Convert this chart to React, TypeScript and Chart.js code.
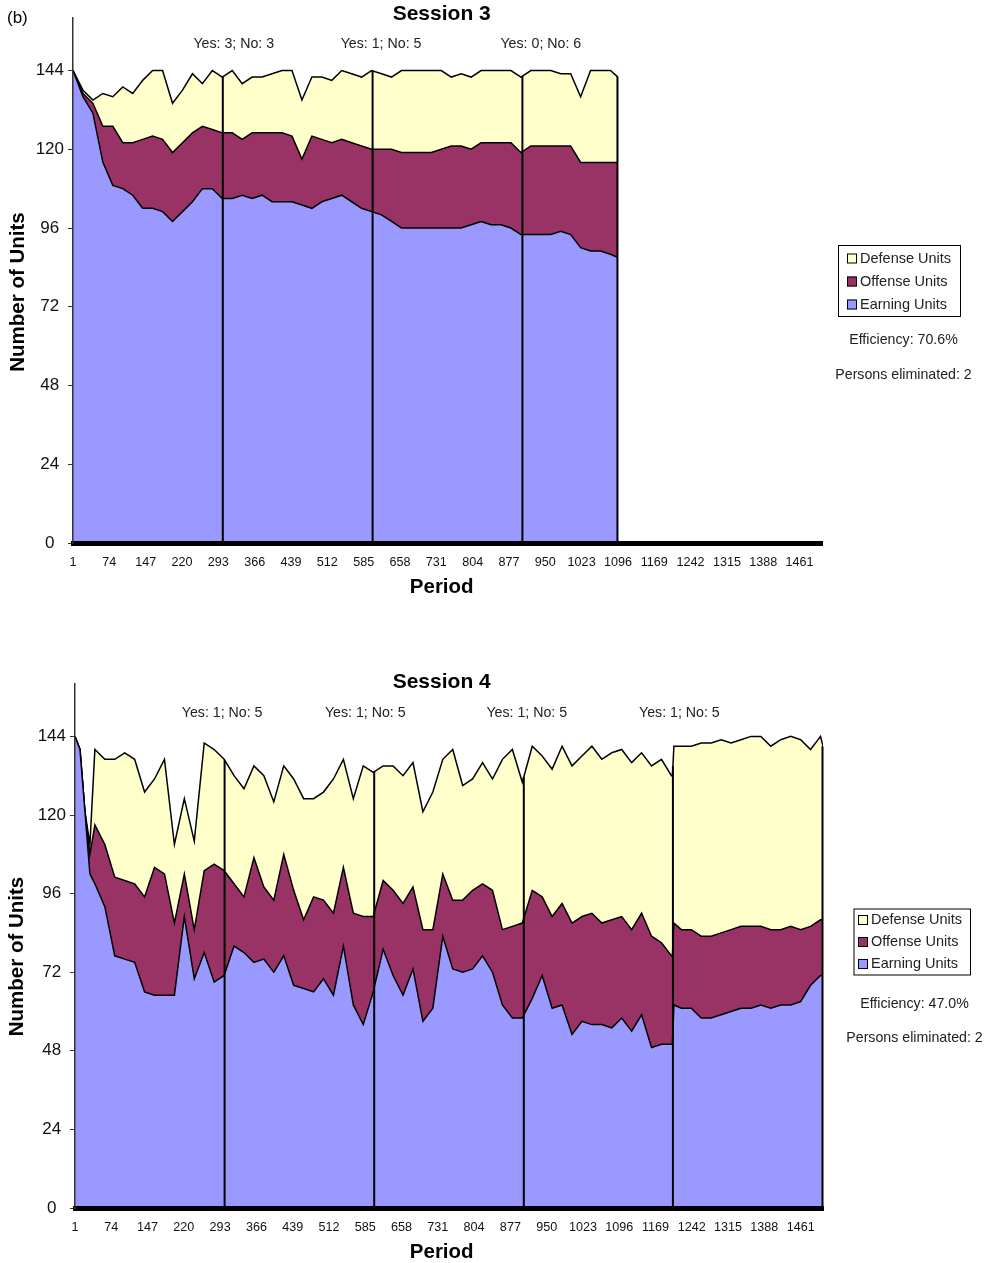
import React, { useEffect, useRef } from "react";
import { Chart, registerables } from "chart.js";

Chart.register(...registerables);

// ---------- Session 3 data ----------
const s3Periods = [1, 21, 41, 61, 81, 101, 121, 141, 161, 181, 201, 221, 241, 261, 281, 301, 321, 341, 361, 381, 401, 421, 441, 461, 481, 501, 521, 541, 561, 581, 601, 621, 641, 661, 681, 701, 721, 741, 761, 781, 801, 821, 841, 861, 881, 901, 921, 941, 961, 981, 1001, 1021, 1041, 1061, 1081, 1096];
const s3Earning = [144, 136, 131, 116, 109, 108, 106, 102, 102, 101, 98, 101, 104, 108, 108, 105, 105, 106, 105, 106, 104, 104, 104, 103, 102, 104, 105, 106, 104, 102, 101, 100, 98, 96, 96, 96, 96, 96, 96, 96, 97, 98, 97, 97, 96, 94, 94, 94, 94, 95, 94, 90, 89, 89, 88, 87];
const s3Offense = [0, 1, 3, 11, 18, 14, 16, 21, 22, 22, 21, 21, 21, 19, 18, 20, 20, 17, 20, 19, 21, 21, 20, 14, 22, 19, 17, 17, 18, 19, 19, 20, 22, 23, 23, 23, 23, 24, 25, 25, 23, 24, 25, 25, 26, 25, 27, 27, 27, 26, 27, 26, 27, 27, 28, 29];
const s3Defense = [0, 1, 1, 10, 9, 17, 15, 18, 20, 21, 15, 16, 18, 13, 18, 17, 19, 17, 17, 17, 18, 19, 20, 18, 18, 19, 19, 21, 21, 21, 24, 23, 22, 25, 25, 25, 25, 24, 21, 22, 22, 22, 22, 22, 22, 23, 23, 23, 23, 22, 22, 20, 28, 28, 28, 26];
const s3PhaseBreaks = [302, 603, 904];
const s3Votes = ["Yes: 3; No: 3", "Yes: 1; No: 5", "Yes: 0; No: 6"];
const s3VotePeriods = [324, 620, 941];

// ---------- Session 4 data ----------
const s4Periods = [1, 11, 21, 31, 41, 61, 81, 101, 121, 141, 161, 181, 201, 221, 241, 261, 281, 301, 321, 341, 361, 381, 401, 421, 441, 461, 481, 501, 521, 541, 561, 581, 601, 621, 641, 661, 681, 701, 721, 741, 761, 781, 801, 821, 841, 861, 881, 901, 921, 941, 961, 981, 1001, 1021, 1041, 1061, 1081, 1101, 1121, 1141, 1161, 1181, 1201, 1203, 1206, 1221, 1241, 1261, 1281, 1301, 1321, 1341, 1361, 1381, 1401, 1421, 1441, 1461, 1481, 1501, 1506];
const s4Earning = [144, 140, 121, 102, 99, 92, 77, 76, 75, 66, 65, 65, 65, 89, 70, 78, 69, 71, 80, 78, 75, 76, 72, 77, 68, 67, 66, 70, 65, 80, 62, 56, 66, 79, 71, 65, 73, 57, 61, 83, 73, 72, 73, 77, 72, 62, 58, 58, 64, 71, 61, 62, 53, 57, 56, 56, 55, 58, 54, 59, 49, 50, 50, 50, 62, 61, 61, 58, 58, 59, 60, 61, 61, 62, 61, 62, 62, 63, 68, 71, 71];
const s4Offense = [0, 0, 0, 6, 18, 19, 24, 24, 24, 29, 39, 37, 22, 13, 15, 25, 36, 32, 19, 17, 32, 22, 22, 31, 29, 21, 29, 24, 25, 24, 28, 33, 23, 21, 26, 28, 25, 28, 24, 19, 21, 22, 24, 22, 25, 23, 28, 29, 33, 24, 28, 31, 34, 32, 34, 31, 33, 31, 31, 31, 34, 31, 27, 27, 25, 24, 24, 25, 25, 25, 25, 25, 25, 24, 24, 23, 24, 22, 18, 17, 17];
const s4Defense = [0, 0, 0, 3, 23, 26, 36, 39, 38, 32, 27, 35, 24, 23, 27, 39, 35, 34, 33, 33, 28, 34, 30, 27, 34, 37, 30, 33, 41, 33, 35, 46, 44, 35, 38, 39, 38, 36, 42, 35, 46, 35, 34, 37, 34, 52, 54, 43, 44, 43, 45, 48, 48, 49, 51, 50, 51, 51, 51, 49, 52, 56, 55, 55, 54, 56, 56, 59, 59, 59, 57, 57, 58, 58, 56, 58, 58, 58, 54, 56, 53];
const s4PhaseBreaks = [302, 603, 904, 1204];
const s4Votes = ["Yes: 1; No: 5", "Yes: 1; No: 5", "Yes: 1; No: 5", "Yes: 1; No: 5"];
const s4VotePeriods = [297, 585, 910, 1217];

// ---------- shared axis ticks / labels ----------
const xTickValues = [1, 74, 147, 220, 293, 366, 439, 512, 585, 658, 731, 804, 877, 950, 1023, 1096, 1169, 1242, 1315, 1388, 1461];
const yTickValues = [0, 24, 48, 72, 96, 120, 144];
const legendLabels = ["Defense Units", "Offense Units", "Earning Units"];
const seriesNames = ["Earning Units", "Offense Units", "Defense Units"];

const COLORS = { earning: "#9999FF", offense: "#993366", defense: "#FFFFCC" };
const FONT = "'Liberation Sans', Arial, Helvetica, sans-serif";
const X_MIN = 1;
const X_MAX = 1506;
const Y_MAX = 160;

type Layout = {
  top: number; height: number;
  plotTop: number; plotBottom: number; plotLeft: number; plotRight: number;
  titleY: number; voteY: number; yTitleX: number; yTitleY: number; periodY: number; centerX: number;
  legend: { x: number; y: number; w: number; h: number; rows: number[]; markerX: number; textX: number };
  infoX: number; effY: number; elimY: number; panelLabel?: string;
};

type Session = {
  title: string;
  periods: number[]; earning: number[]; offense: number[]; defense: number[];
  breaks: number[]; votes: string[]; votePeriods: number[];
  efficiency: string; eliminated: string;
  layout: Layout;
};

const sessions: Session[] = [
  {
    title: "Session 3",
    periods: s3Periods, earning: s3Earning, offense: s3Offense, defense: s3Defense,
    breaks: s3PhaseBreaks, votes: s3Votes, votePeriods: s3VotePeriods,
    efficiency: "Efficiency: 70.6%", eliminated: "Persons eliminated: 2",
    layout: {
      top: 0, height: 610, plotTop: 18, plotBottom: 543, plotLeft: 73, plotRight: 822,
      titleY: 14, voteY: 44, yTitleX: 18, yTitleY: 292, periodY: 587.5, centerX: 441.7,
      legend: { x: 838, y: 245, w: 122, h: 71, rows: [258.5, 281.5, 304.5], markerX: 847, textX: 860 },
      infoX: 903.5, effY: 340, elimY: 375.5, panelLabel: "(b)",
    },
  },
  {
    title: "Session 4",
    periods: s4Periods, earning: s4Earning, offense: s4Offense, defense: s4Defense,
    breaks: s4PhaseBreaks, votes: s4Votes, votePeriods: s4VotePeriods,
    efficiency: "Efficiency: 47.0%", eliminated: "Persons eliminated: 2",
    layout: {
      top: 620, height: 643, plotTop: 64, plotBottom: 588, plotLeft: 75, plotRight: 823,
      titleY: 62, voteY: 93.5, yTitleX: 17.5, yTitleY: 336.5, periodY: 632.5, centerX: 441.7,
      legend: { x: 853.5, y: 288.5, w: 116.5, h: 66, rows: [300, 322, 344], markerX: 858, textX: 871 },
      infoX: 914.5, effY: 384.3, elimY: 417.7,
    },
  },
];

function SessionChart({ s }: { s: Session }) {
  const ref = useRef<HTMLCanvasElement | null>(null);
  const L = s.layout;

  useEffect(() => {
    const canvas = ref.current;
    if (!canvas) return;

    const totalAt = (p: number) => {
      const ps = s.periods;
      const tot = (i: number) => s.earning[i] + s.offense[i] + s.defense[i];
      if (p <= ps[0]) return tot(0);
      for (let i = 0; i < ps.length - 1; i++) {
        if (p >= ps[i] && p <= ps[i + 1]) {
          const t = (p - ps[i]) / (ps[i + 1] - ps[i]);
          return tot(i) + (tot(i + 1) - tot(i)) * t;
        }
      }
      return tot(ps.length - 1);
    };

    const overlay = {
      id: "overlay",
      afterDatasetsDraw(chart: any) {
        const ctx = chart.ctx;
        const xs = chart.scales.x;
        const ys = chart.scales.y;
        ctx.save();
        ctx.strokeStyle = "#000";
        ctx.lineWidth = 2;
        const lines = [...s.breaks, s.periods[s.periods.length - 1]];
        lines.forEach((b, i) => {
          const x = xs.getPixelForValue(b) - (i === lines.length - 1 ? 0.5 : 0);
          ctx.beginPath();
          ctx.moveTo(x, ys.getPixelForValue(totalAt(b)));
          ctx.lineTo(x, ys.getPixelForValue(0));
          ctx.stroke();
        });
        ctx.restore();
      },
      afterDraw(chart: any) {
        const ctx = chart.ctx;
        const xs = chart.scales.x;
        ctx.save();
        ctx.fillStyle = "#000";
        ctx.textBaseline = "middle";
        ctx.textAlign = "center";
        // title
        ctx.font = `bold 21px ${FONT}`;
        ctx.fillText(s.title, L.centerX, L.titleY);
        // axis titles
        ctx.font = `bold 20.5px ${FONT}`;
        ctx.fillText("Period", L.centerX, L.periodY);
        ctx.save();
        ctx.translate(L.yTitleX, L.yTitleY);
        ctx.rotate(-Math.PI / 2);
        ctx.fillText("Number of Units", 0, 0);
        ctx.restore();
        // vote annotations
        ctx.fillStyle = "#222";
        ctx.font = `14.2px ${FONT}`;
        s.votes.forEach((v, i) => {
          ctx.fillText(v, xs.getPixelForValue(s.votePeriods[i]), L.voteY);
        });
        // panel label
        if (L.panelLabel) {
          ctx.fillStyle = "#000";
          ctx.textAlign = "left";
          ctx.font = `17px ${FONT}`;
          ctx.fillText(L.panelLabel, 7, 18.5);
          ctx.textAlign = "center";
        }
        // legend
        const lg = L.legend;
        ctx.fillStyle = "#fff";
        ctx.fillRect(lg.x, lg.y, lg.w, lg.h);
        ctx.strokeStyle = "#000";
        ctx.lineWidth = 1;
        ctx.strokeRect(lg.x + 0.5, lg.y + 0.5, lg.w, lg.h);
        const legendColors = [COLORS.defense, COLORS.offense, COLORS.earning];
        ctx.font = `14.5px ${FONT}`;
        ctx.textAlign = "left";
        legendLabels.forEach((lab, i) => {
          const cy = lg.rows[i];
          ctx.fillStyle = legendColors[i];
          ctx.fillRect(lg.markerX, cy - 5, 10, 10);
          ctx.strokeStyle = "#000";
          ctx.strokeRect(lg.markerX + 0.5, cy - 4.5, 9, 9);
          ctx.fillStyle = "#222";
          ctx.fillText(lab, lg.textX, cy);
        });
        // efficiency info
        ctx.textAlign = "center";
        ctx.font = `14.2px ${FONT}`;
        ctx.fillText(s.efficiency, L.infoX, L.effY);
        ctx.fillText(s.eliminated, L.infoX, L.elimY);
        ctx.restore();
      },
    };

    const mk = (vals: number[]) => s.periods.map((p, i) => ({ x: p, y: vals[i] }));

    const chart = new Chart(canvas, {
      type: "line",
      data: {
        datasets: [
          { label: seriesNames[0], data: mk(s.earning), backgroundColor: COLORS.earning, borderColor: "#000", borderWidth: 1.5, fill: "origin", pointRadius: 0 },
          { label: seriesNames[1], data: mk(s.offense), backgroundColor: COLORS.offense, borderColor: "#000", borderWidth: 1.5, fill: "-1", pointRadius: 0 },
          { label: seriesNames[2], data: mk(s.defense), backgroundColor: COLORS.defense, borderColor: "#000", borderWidth: 1.5, fill: "-1", pointRadius: 0 },
        ],
      },
      options: {
        responsive: false,
        maintainAspectRatio: false,
        animation: false,
        devicePixelRatio: 1,
        layout: { padding: { left: 0, right: 994 - L.plotRight, top: L.plotTop, bottom: 0 } },
        plugins: { legend: { display: false }, tooltip: { enabled: false }, title: { display: false } },
        elements: { line: { tension: 0 }, point: { radius: 0 } },
        scales: {
          x: {
            type: "linear",
            min: X_MIN,
            max: X_MAX,
            afterFit: (sc: any) => { sc.height = L.height - L.plotBottom; },
            afterBuildTicks: (sc: any) => { sc.ticks = xTickValues.map((v) => ({ value: v })); },
            ticks: { autoSkip: false, maxRotation: 0, minRotation: 0, padding: 12, color: "#111", font: { family: FONT, size: 12.6 }, callback: (v: any) => String(v) },
            grid: { display: false, drawTicks: false },
            border: { display: true, color: "#000", width: 5, z: 1 },
          },
          y: {
            type: "linear",
            stacked: true,
            min: 0,
            max: Y_MAX,
            afterFit: (sc: any) => { sc.width = L.plotLeft; },
            afterBuildTicks: (sc: any) => { sc.ticks = yTickValues.map((v) => ({ value: v })); },
            ticks: { padding: 4, crossAlign: "center", color: "#111", font: { family: FONT, size: 17 } },
            grid: { display: true, drawOnChartArea: false, drawTicks: true, tickLength: 5, color: "#333", lineWidth: 1 },
            border: { display: true, color: "#333", width: 1.5, z: 1 },
          },
        },
      } as any,
      plugins: [overlay],
    });
    return () => chart.destroy();
  }, []);

  return (
    <div style={{ position: "absolute", left: 0, top: L.top, width: 994, height: L.height }}>
      <canvas ref={ref} width={994} height={L.height} style={{ width: 994, height: L.height, display: "block" }} />
    </div>
  );
}

export default function App() {
  return (
    <div style={{ position: "absolute", left: 0, top: 0, width: 994, height: 1263, overflow: "hidden", background: "#fff" }}>
      {sessions.map((s) => (
        <SessionChart key={s.title} s={s} />
      ))}
    </div>
  );
}
